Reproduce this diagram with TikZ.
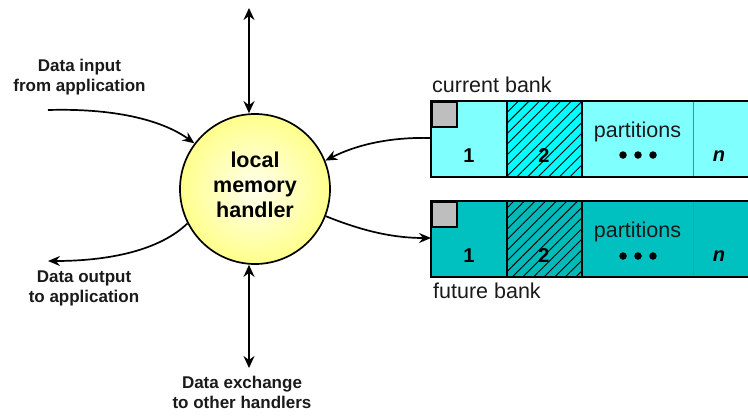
\documentclass[tikz,border=0pt]{standalone}
\usepackage{fontspec}
\setmainfont{Liberation Sans}
\usetikzlibrary{arrows.meta,patterns.meta}
\definecolor{curfill}{HTML}{80FFFF}
\definecolor{curhatch}{HTML}{00FFFF}
\definecolor{futfill}{HTML}{00C0C0}
\definecolor{futhatch}{HTML}{00BABA}
\definecolor{thindiv}{HTML}{3A9A9A}
\definecolor{sqgray}{HTML}{BEBEBE}
\definecolor{txtgray}{HTML}{1A1A1A}
\begin{document}
\begin{tikzpicture}[x=1pt,y=-1pt,
  tipstyle/.style={-{Stealth[length=12pt,width=10pt,inset=4pt]}},
  conn/.style={line width=1.7pt,tipstyle},
  vconn/.style={line width=2.3pt,{Stealth[length=12pt,width=11pt,inset=4pt]}-{Stealth[length=12pt,width=11pt,inset=4pt]}},
  part/.style={rectangle,anchor=north west,inner sep=0pt,minimum height=76pt,draw=none},
  hatched/.style={postaction={pattern={Lines[angle=45,distance=7.5pt,line width=0.9pt]},pattern color=black}},
  border/.style={line width=2pt,draw=black},
  thinline/.style={line width=1pt,draw=thindiv},
  sqbox/.style={rectangle,anchor=north west,inner sep=0pt,minimum size=25pt,fill=sqgray,draw=black,line width=1.9pt},
  datalbl/.style={align=center,font=\fontsize{17}{20}\selectfont\bfseries,inner sep=0pt,text=txtgray},
  banklbl/.style={anchor=base west,font=\fontsize{21.5}{24}\selectfont,inner sep=0pt,text=txtgray},
  parttxt/.style={anchor=base,font=\fontsize{21.5}{24}\selectfont,inner sep=0pt,text=txtgray},
  numtxt/.style={anchor=base,font=\fontsize{20}{24}\selectfont\bfseries,inner sep=0pt},
  dotstyle/.style={circle,fill=black,inner sep=0pt,minimum size=7.5pt}
]
\path[use as bounding box,clip] (0,0) rectangle (748,418);

% handler circle
\node[circle,minimum size=150pt,inner sep=0pt,draw=black,line width=1.7pt,
      inner color={rgb,255:red,255;green,255;blue,238},outer color={rgb,255:red,255;green,255;blue,140}] (handler) at (255,189) {};
\node[align=center,font=\fontsize{21.5}{25}\selectfont\bfseries,inner sep=0pt,yshift=4.5pt] (htext) at (handler.center) {local\\memory\\handler};

% current bank
\node[part,fill=curfill,minimum width=76pt] (cur1) at (431,101) {};
\node[part,fill=curhatch,hatched,minimum width=75pt] (cur2) at (507,101) {};
\node[part,fill=curfill,minimum width=111pt] (curP) at (582,101) {};
\node[part,fill=curfill,minimum width=75pt] (curN) at (693,101) {};
\draw[thinline] (curN.north west) -- (curN.south west);
\draw[border] (cur2.north west) -- (cur2.south west);
\draw[border] (curP.north west) -- (curP.south west);
\draw[border] (cur1.north west) rectangle (curN.south east);
\node[sqbox] (curSq) at (cur1.north west) {};
\node[numtxt] (cur1t) at (469,162) {1};
\node[numtxt] (cur2t) at (544,162) {2};
\node[parttxt] (curPt) at (637.5,137) {partitions};
\node[dotstyle] (cd1) at (623,155) {};
\node[dotstyle] (cd2) at (638,155) {};
\node[dotstyle] (cd3) at (653,155) {};
\node[numtxt] (curNt) at (719,161) {\itshape n};
\node[banklbl] (curLbl) at (432,92) {current bank};

% future bank
\node[part,fill=futfill,minimum width=76pt] (fut1) at (431,201) {};
\node[part,fill=futhatch,hatched,minimum width=75pt] (fut2) at (507,201) {};
\node[part,fill=futfill,minimum width=111pt] (futP) at (582,201) {};
\node[part,fill=futfill,minimum width=75pt] (futN) at (693,201) {};
\draw[thinline] (futN.north west) -- (futN.south west);
\draw[border] (fut2.north west) -- (fut2.south west);
\draw[border] (futP.north west) -- (futP.south west);
\draw[border] (fut1.north west) rectangle (futN.south east);
\node[sqbox] (futSq) at (fut1.north west) {};
\node[numtxt] (fut1t) at (469,262) {1};
\node[numtxt] (fut2t) at (544,262) {2};
\node[parttxt] (futPt) at (637.5,237) {partitions};
\node[dotstyle] (fd1) at (623,256) {};
\node[dotstyle] (fd2) at (638,256) {};
\node[dotstyle] (fd3) at (653,256) {};
\node[numtxt] (futNt) at (719,261) {\itshape n};
\node[banklbl] (futLbl) at (433,298) {future bank};

% labels
\node[datalbl] (inLbl) at (79.5,77.6) {Data input\\from application};
\node[datalbl] (outLbl) at (84,288.6) {Data output\\to application};
\node[datalbl] (exLbl) at (242,392) {Data exchange\\to other handlers};

% connectors
\coordinate (inS) at (48,110);
\coordinate (outE) at (48,261);
\coordinate (topE) at (249,8);
\coordinate (botE) at (249,368);
\coordinate (curIn) at (431,138);
\coordinate (futIn) at (431,238);

\draw[conn] (inS) .. controls (120,108) and (165,122) .. (handler.143);
\draw[conn] (handler.207) .. controls (160,250) and (110,261) .. (outE);
\draw[conn] (curIn) .. controls (395,137) and (360,143) .. (handler.22);
\draw[conn] (handler.339) .. controls (365,232) and (395,238) .. (futIn);
\draw[vconn] (topE) -- (topE |- handler.north);
\draw[vconn] (botE |- handler.south) -- (botE);
\end{tikzpicture}
\end{document}
